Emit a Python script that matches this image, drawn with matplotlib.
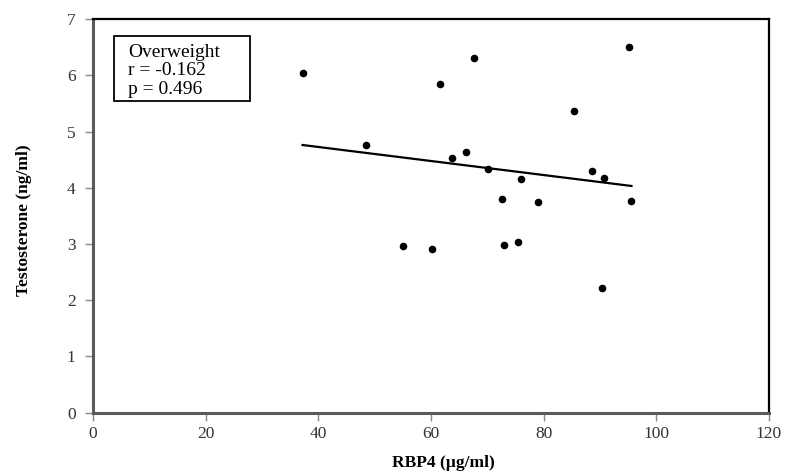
import numpy as np
import matplotlib
matplotlib.use("Agg")
import matplotlib.pyplot as plt
from matplotlib.patches import Rectangle

# RBP4 vs testosterone, overweight group
rbp4 = [37.2, 48.4, 61.6, 67.7, 63.8, 66.3, 70.2, 75.9, 72.6, 79.0,
        85.4, 88.6, 90.7, 95.2, 95.6, 55.1, 60.1, 72.9, 75.4, 90.3]
testo = [6.04, 4.77, 5.84, 6.31, 4.54, 4.63, 4.33, 4.16, 3.81, 3.75,
         5.37, 4.30, 4.18, 6.51, 3.76, 2.97, 2.91, 2.98, 3.04, 2.22]
xticks = [0, 20, 40, 60, 80, 100, 120]
yticks = [0, 1, 2, 3, 4, 5, 6, 7]

plt.rcParams['font.family'] = ['Liberation Serif', 'DejaVu Serif']

fig = plt.figure(figsize=(7.87, 4.75), dpi=100)
ax = fig.add_axes([0.1182, 0.1312, 0.8588, 0.8282])

x = np.array(rbp4)
y = np.array(testo)
ax.scatter(x, y, s=20, color='black', zorder=3)

# linear fit over the data range
slope, icpt = np.polyfit(x, y, 1)
xf = np.array([x.min(), x.max()])
ax.plot(xf, slope * xf + icpt, color='black', lw=1.6)

ax.set_xlim(0, 120)
ax.set_ylim(0, 7)
ax.set_xticks(xticks)
ax.set_yticks(yticks)
ax.tick_params(direction='out', length=5.5, width=1, color='#888888',
               labelsize=12.5, labelcolor='#333333')
ax.tick_params(axis='y', pad=7)
ax.tick_params(axis='x', pad=4)

for side in ['left', 'bottom']:
    ax.spines[side].set_color('#5a5a5a')
    ax.spines[side].set_linewidth(2.2)
for side in ['top', 'right']:
    ax.spines[side].set_color('black')
    ax.spines[side].set_linewidth(1.6)

ax.set_xlabel('RBP4 (µg/ml)', fontsize=12.5, fontweight='bold')
ax.xaxis.set_label_coords(0.519, -0.108)
ax.set_ylabel('Testosterone (ng/ml)', fontsize=12.5, fontweight='bold')
ax.yaxis.set_label_coords(-0.09, 0.49)

# stats box
ax.add_patch(Rectangle((0.031, 0.7923), 0.201, 0.1653, transform=ax.transAxes,
                       facecolor='white', edgecolor='black', linewidth=1.3,
                       zorder=4))
ax.text(0.0518, 0.937, 'Overweight\nr = -0.162\np = 0.496', transform=ax.transAxes,
        fontsize=14, va='top', ha='left', linespacing=1.1, zorder=5)

fig.savefig('out.png', dpi=100)
